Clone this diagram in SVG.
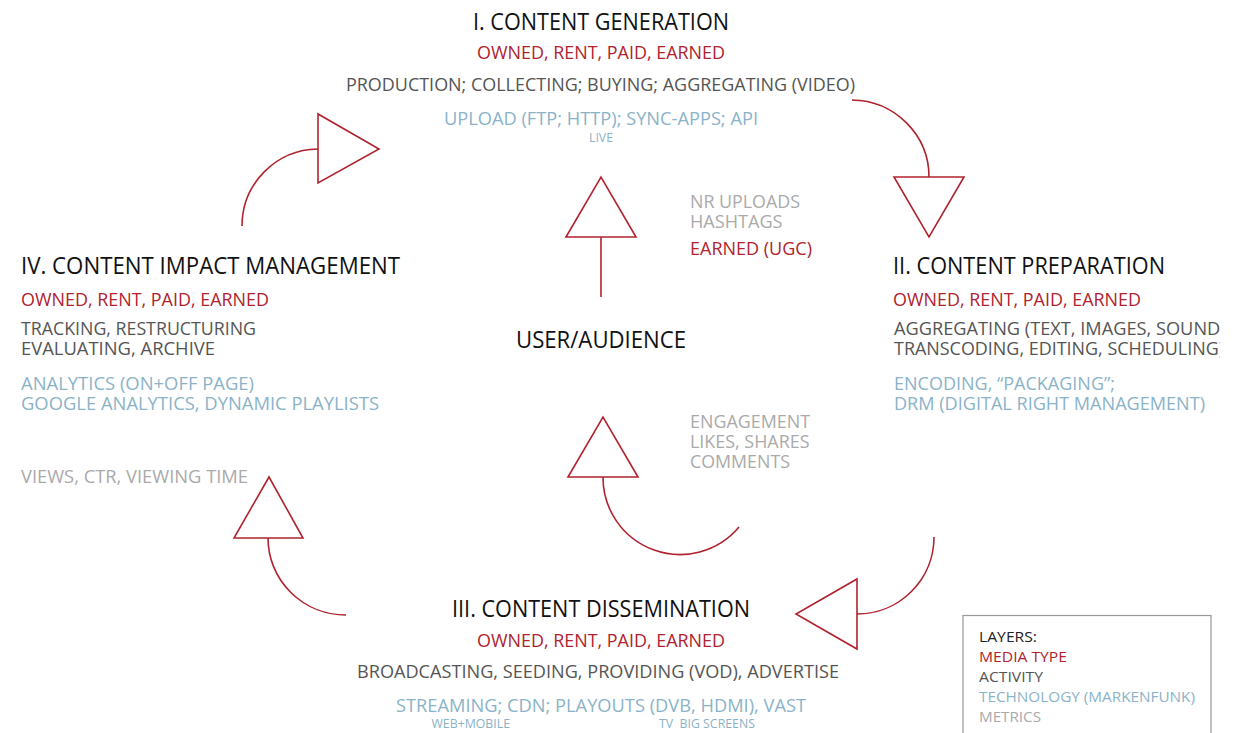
<svg xmlns="http://www.w3.org/2000/svg" width="1237" height="733" viewBox="0 0 1237 733">
<style>
text{font-family:"Open Sans","Noto Sans","DejaVu Sans",sans-serif;}
.t{font-size:23px;fill:#111;}
.m{font-size:18px;fill:#b0232e;}
.a{font-size:18px;fill:#555;}
.k{font-size:18px;fill:#8ab3c8;}
.s{font-size:12px;fill:#8ab3c8;}
.g{font-size:18px;fill:#aaa;}
.l{font-size:14px;}
.c{fill:none;stroke:#b0232e;stroke-width:1.6;}
.h{fill:#fff;stroke:#b0232e;stroke-width:1.6;stroke-linejoin:miter;}
</style>
<defs>
<clipPath id="clipR"><rect x="0" y="0" width="1220" height="733"/></clipPath>
</defs>
<rect width="1237" height="733" fill="#fff"/>

<g id="connectors">
<path class="c" d="M242,226 A77,77 0 0 1 318,149"/>
<polygon class="h" points="318,114 318,183 379,149"/>
<path class="c" d="M852,100 A78,77 0 0 1 929,177"/>
<polygon class="h" points="894,177 964,177 929,237"/>
<path class="c" d="M934,537 A77,77 0 0 1 857,614"/>
<polygon class="h" points="857,579 857,649 796,614"/>
<path class="c" d="M346,615 A78,77 0 0 1 268,538"/>
<polygon class="h" points="234,538 303,538 269,477"/>
<path class="c" d="M601,297 L601,237"/>
<polygon class="h" points="566,237 636,237 601,177"/>
<path class="c" d="M739,527 A77,77 0 0 1 603,477"/>
<polygon class="h" points="568,477 638,477 603,417"/>
</g>

<g id="stage1">
<text class="t" x="473" y="29.5" textLength="256" lengthAdjust="spacingAndGlyphs">I. CONTENT GENERATION</text>
<text class="m" x="477" y="59" textLength="248" lengthAdjust="spacingAndGlyphs">OWNED, RENT, PAID, EARNED</text>
<text class="a" x="346" y="91" textLength="509" lengthAdjust="spacingAndGlyphs">PRODUCTION; COLLECTING; BUYING; AGGREGATING (VIDEO)</text>
<text class="k" x="444" y="125" textLength="314" lengthAdjust="spacingAndGlyphs">UPLOAD (FTP; HTTP); SYNC-APPS; API</text>
<text class="s" x="589" y="141.5" textLength="24" lengthAdjust="spacingAndGlyphs">LIVE</text>
</g>

<g id="stage2">
<text class="t" x="893" y="274" textLength="272" lengthAdjust="spacingAndGlyphs">II. CONTENT PREPARATION</text>
<text class="m" x="893" y="305.5" textLength="248" lengthAdjust="spacingAndGlyphs">OWNED, RENT, PAID, EARNED</text>
<g clip-path="url(#clipR)">
<text class="a" x="894" y="335" textLength="331" lengthAdjust="spacingAndGlyphs">AGGREGATING (TEXT, IMAGES, SOUND,</text>
<text class="a" x="894" y="355" textLength="330" lengthAdjust="spacingAndGlyphs">TRANSCODING, EDITING, SCHEDULING)</text>
</g>
<text class="k" x="894" y="390" textLength="221" lengthAdjust="spacingAndGlyphs">ENCODING, “PACKAGING”;</text>
<text class="k" x="894" y="410" textLength="311" lengthAdjust="spacingAndGlyphs">DRM (DIGITAL RIGHT MANAGEMENT)</text>
</g>

<g id="stage3">
<text class="t" x="452" y="616.5" textLength="298" lengthAdjust="spacingAndGlyphs">III. CONTENT DISSEMINATION</text>
<text class="m" x="477" y="646.5" textLength="248" lengthAdjust="spacingAndGlyphs">OWNED, RENT, PAID, EARNED</text>
<text class="a" x="357" y="678.3" textLength="482" lengthAdjust="spacingAndGlyphs">BROADCASTING, SEEDING, PROVIDING (VOD), ADVERTISE</text>
<text class="k" x="396" y="711.7" textLength="410" lengthAdjust="spacingAndGlyphs">STREAMING; CDN; PLAYOUTS (DVB, HDMI), VAST</text>
<text class="s" x="431.5" y="728.3" textLength="78.5" lengthAdjust="spacingAndGlyphs">WEB+MOBILE</text>
<text class="s" x="659" y="728.3" textLength="96" lengthAdjust="spacingAndGlyphs" xml:space="preserve">TV  BIG SCREENS</text>
</g>

<g id="stage4">
<text class="t" x="21" y="274.3" textLength="379" lengthAdjust="spacingAndGlyphs">IV. CONTENT IMPACT MANAGEMENT</text>
<text class="m" x="21" y="306" textLength="248" lengthAdjust="spacingAndGlyphs">OWNED, RENT, PAID, EARNED</text>
<text class="a" x="21" y="335" textLength="235" lengthAdjust="spacingAndGlyphs">TRACKING, RESTRUCTURING</text>
<text class="a" x="21" y="355" textLength="194" lengthAdjust="spacingAndGlyphs">EVALUATING, ARCHIVE</text>
<text class="k" x="21" y="390" textLength="233" lengthAdjust="spacingAndGlyphs">ANALYTICS (ON+OFF PAGE)</text>
<text class="k" x="21" y="410" textLength="358" lengthAdjust="spacingAndGlyphs">GOOGLE ANALYTICS, DYNAMIC PLAYLISTS</text>
<text class="g" x="21" y="483.3" textLength="227" lengthAdjust="spacingAndGlyphs">VIEWS, CTR, VIEWING TIME</text>
</g>

<g id="user">
<text class="t" x="516" y="348.3" textLength="170" lengthAdjust="spacingAndGlyphs">USER/AUDIENCE</text>
</g>

<g id="label-upload">
<text class="g" x="690" y="208.3" textLength="110" lengthAdjust="spacingAndGlyphs">NR UPLOADS</text>
<text class="g" x="690" y="227.7" textLength="92.5" lengthAdjust="spacingAndGlyphs">HASHTAGS</text>
<text class="m" x="690" y="255" textLength="122" lengthAdjust="spacingAndGlyphs">EARNED (UGC)</text>
</g>

<g id="label-engagement">
<text class="g" x="690" y="428.3" textLength="120" lengthAdjust="spacingAndGlyphs">ENGAGEMENT</text>
<text class="g" x="690" y="448.3" textLength="119.5" lengthAdjust="spacingAndGlyphs">LIKES, SHARES</text>
<text class="g" x="690" y="467.7" textLength="100" lengthAdjust="spacingAndGlyphs">COMMENTS</text>
</g>

<g id="legend">
<rect x="963" y="615.5" width="248" height="140" fill="#fff" stroke="#999" stroke-width="1.2"/>
<text class="l" x="979" y="641.7" fill="#222" textLength="58" lengthAdjust="spacingAndGlyphs">LAYERS:</text>
<text class="l" x="979" y="661.7" fill="#b0232e" textLength="88" lengthAdjust="spacingAndGlyphs">MEDIA TYPE</text>
<text class="l" x="979" y="681.7" fill="#555" textLength="64" lengthAdjust="spacingAndGlyphs">ACTIVITY</text>
<text class="l" x="979" y="701.7" fill="#8ab3c8" textLength="216" lengthAdjust="spacingAndGlyphs">TECHNOLOGY (MARKENFUNK)</text>
<text class="l" x="979" y="721.7" fill="#aaa" textLength="62" lengthAdjust="spacingAndGlyphs">METRICS</text>
</g>
</svg>
